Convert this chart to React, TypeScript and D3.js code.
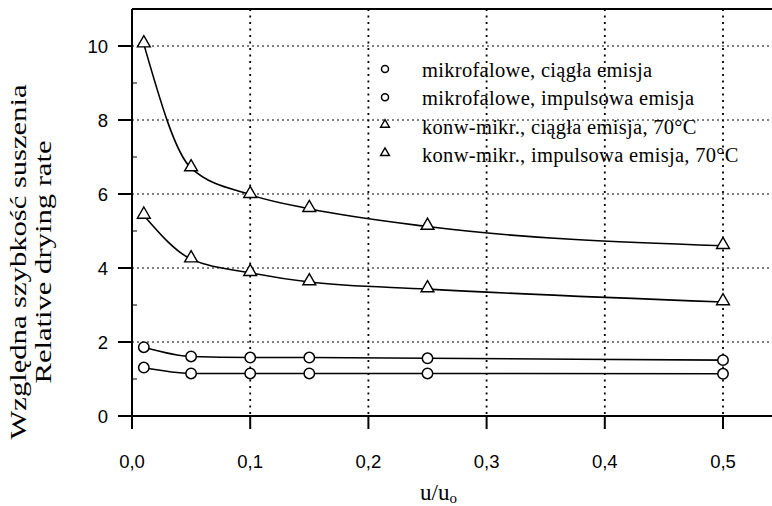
import React from 'react';
import * as d3 from 'd3';

// u/u0 positions of the measurements
const ratios = [0.01, 0.05, 0.1, 0.15, 0.25, 0.5];

// relative drying rate per series
const mwContinuous = [1.86, 1.61, 1.58, 1.58, 1.56, 1.51];
const mwPulsed = [1.31, 1.15, 1.15, 1.15, 1.15, 1.14];
const cmContinuous = [10.05, 6.7, 5.98, 5.6, 5.12, 4.6];
const cmPulsed = [5.42, 4.24, 3.87, 3.62, 3.43, 3.08];

const seriesNames = [
  'mikrofalowe, ciągła emisja',
  'mikrofalowe, impulsowa emisja',
  'konw-mikr., ciągła emisja, 70\u00B0C',
  'konw-mikr., impulsowa emisja, 70\u00B0C',
];
const seriesShapes = ['circle', 'circle', 'triangle', 'triangle'];
const seriesValues = [mwContinuous, mwPulsed, cmContinuous, cmPulsed];

const xTicks = [0, 0.1, 0.2, 0.3, 0.4, 0.5];
const yTicks = [0, 2, 4, 6, 8, 10];
const yMinorTicks = [1, 3, 5, 7, 9];

const W = 772;
const H = 506;
const margin = { left: 132, top: 9, right: 772, bottom: 416 };

const sans = '"Liberation Sans", Arial, sans-serif';
const serif = '"Liberation Serif", "Times New Roman", serif';

const App = () => {
  const x = d3.scaleLinear().domain([0, 0.5]).range([132, 723]);
  const y = d3.scaleLinear().domain([0, 10]).range([416, 46]);
  const top = y(11);

  const line = d3
    .line<number>()
    .x((d, i) => x(ratios[i]))
    .y((d) => y(d))
    .curve(d3.curveMonotoneX);

  const bigTri = d3.symbol().type(d3.symbolTriangle).size(72)();
  const smallTri = d3.symbol().type(d3.symbolTriangle).size(34)();

  const marker = (shape: string, cx: number, cy: number, small: boolean, key: any) =>
    shape === 'circle' ? (
      <circle key={key} cx={cx} cy={cy} r={small ? 3.5 : 5.2} fill="white" stroke="black" strokeWidth={1.5} />
    ) : (
      <path key={key} d={(small ? smallTri : bigTri) as string} transform={`translate(${cx},${cy - 1})`} fill="white" stroke="black" strokeWidth={1.4} />
    );

  const legendY = d3.scaleLinear().domain([0, 3]).range([77, 162]);

  return (
    <svg width={W} height={H} style={{ position: 'absolute', left: 0, top: 0, background: 'white' }}>
      {/* grid */}
      <g stroke="black" fill="none">
        {yTicks.filter((t) => t > 0).map((t) => (
          <line key={'gy' + t} x1={margin.left} x2={W} y1={y(t)} y2={y(t)} strokeWidth={1.2} strokeDasharray="2,3" />
        ))}
        {xTicks.filter((t) => t > 0).map((t) => (
          <line key={'gx' + t} x1={x(t)} x2={x(t)} y1={top} y2={margin.bottom} strokeWidth={1.8} strokeDasharray="2,4.5" />
        ))}
      </g>

      {/* frame and axes */}
      <g stroke="black" fill="none" strokeWidth={2}>
        <line x1={margin.left} x2={W} y1={top} y2={top} />
        <line x1={margin.left} x2={margin.left} y1={top} y2={429} />
        <line x1={118} x2={W} y1={margin.bottom} y2={margin.bottom} />
        {yTicks.map((t) => (
          <line key={'ty' + t} x1={118} x2={margin.left} y1={y(t)} y2={y(t)} />
        ))}
        {yMinorTicks.map((t) => (
          <line key={'tm' + t} x1={margin.left} x2={margin.left + 5} y1={y(t)} y2={y(t)} strokeWidth={1} />
        ))}
        {xTicks.map((t) => (
          <line key={'tx' + t} x1={x(t)} x2={x(t)} y1={margin.bottom} y2={429} />
        ))}
      </g>

      {/* tick labels */}
      <g fontFamily={sans} fontSize={18.5} fill="black">
        {yTicks.map((t) => (
          <text key={'ly' + t} x={108} y={y(t)} dy="0.36em" textAnchor="end">
            {t}
          </text>
        ))}
        {xTicks.map((t) => (
          <text key={'lx' + t} x={x(t)} y={468} textAnchor="middle">
            {d3.format('.1f')(t).replace('.', ',')}
          </text>
        ))}
      </g>

      {/* series */}
      {seriesValues.map((vals, s) => (
        <g key={'s' + s}>
          <path d={line(vals) as string} fill="none" stroke="black" strokeWidth={1.6} />
          {vals.map((v, i) => marker(seriesShapes[s], x(ratios[i]), y(v), false, i))}
        </g>
      ))}

      {/* legend */}
      <g fontFamily={serif} fontSize={20.5} fill="black">
        {seriesNames.map((n, i) => (
          <g key={'lg' + i}>
            {marker(seriesShapes[i], 385, legendY(i) - 8, true, 'm' + i)}
            <text x={422} y={legendY(i)} letterSpacing={0.3}>
              {n}
            </text>
          </g>
        ))}
      </g>

      {/* axis titles */}
      <g fontFamily={serif} fill="black">
        <text
          transform="translate(26,262) rotate(-90)"
          textAnchor="middle"
          fontSize={23}
          textLength={355}
          lengthAdjust="spacingAndGlyphs"
        >
          Względna szybkość suszenia
        </text>
        <text
          transform="translate(51,262) rotate(-90)"
          textAnchor="middle"
          fontSize={23}
          textLength={243}
          lengthAdjust="spacingAndGlyphs"
        >
          Relative drying rate
        </text>
        <text x={420} y={500} fontSize={23}>
          u/u
          <tspan fontSize={15} dy={3}>
            o
          </tspan>
        </text>
      </g>
    </svg>
  );
};

export default App;
